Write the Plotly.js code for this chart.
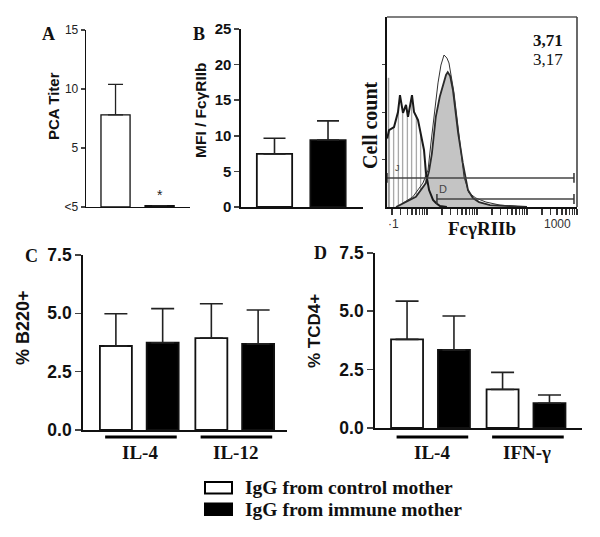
<!DOCTYPE html>
<html><head><meta charset="utf-8">
<script src="https://cdn.plot.ly/plotly-3.0.1.min.js"></script>
<style>html,body{margin:0;padding:0;background:#fff}#chart{width:600px;height:537px}</style>
</head><body><div id="chart"></div>
<script>
// ---------- DATA ----------
const seriesNames = ['IgG from control mother', 'IgG from immune mother'];
const seriesColors = ['#ffffff', '#000000'];

// Panel A: PCA titer
const pcaValues = [7.8, 0.12];
const pcaErrors = [2.6, null];
const pcaTickVals = [0, 5, 10, 15];
const pcaTickText = ['<5', '5', '10', '15'];
const pcaMarks = ['', '*'];

// Panel B: MFI / FcγRIIb
const mfiValues = [7.45, 9.4];
const mfiErrors = [2.2, 2.7];
const mfiTickVals = [0, 5, 10, 15, 20, 25];

// Panel C: % B220+
const cytokinesC = ['IL-4', 'IL-12'];
const b220Control = [3.6, 3.94];
const b220ControlErr = [1.38, 1.47];
const b220Immune = [3.74, 3.69];
const b220ImmuneErr = [1.46, 1.45];

// Panel D: % TCD4+
const cytokinesD = ['IL-4', 'IFN-γ'];
const tcd4Control = [3.79, 1.65];
const tcd4ControlErr = [1.64, 0.73];
const tcd4Immune = [3.34, 1.06];
const tcd4ImmuneErr = [1.45, 0.35];
const pctTickVals = [0, 2.5, 5, 7.5];
const pctTickText = ['0.0', '2.5', '5.0', '7.5'];

// Flow histogram (FcγRIIb fluorescence, cell count %)
const isoX = [1.6, 1.74, 2.19, 2.63, 2.88, 3.31, 3.80, 4.17, 5.01, 5.50, 6.61, 7.59, 8.71, 9.55, 11.0, 13.2, 15.1, 18.2, 25];
const isoY = [36, 40.5, 42.1, 50, 58.9, 49.5, 53.7, 47.4, 58.9, 50, 45.8, 36.8, 30, 17.9, 8.9, 3.7, 2.1, 0.5, 0];
const isoSpikeX = [1.7];
const isoSpikeY = [68];
const immuneX = [2.4, 6.0, 9.5, 11, 12.5, 15, 18, 21, 24, 26, 29, 33, 42, 52, 66, 83, 110, 182, 457, 1000];
const immuneY = [0, 5.4, 12.6, 19, 28, 47.4, 58, 65, 69.5, 71, 69, 61.6, 38.9, 23.2, 8.9, 4.7, 2.6, 1.0, 0.3, 0];
const controlX = [3.3, 5.2, 8.3, 10.5, 12, 13.8, 16.6, 19, 21.9, 25, 27.5, 34.7, 43.6, 55, 69, 95, 151, 288, 631];
const controlY = [2.1, 5.3, 12.6, 19.5, 33.7, 47.4, 65.3, 74.7, 80, 78.4, 75.8, 60, 36.8, 15.8, 7.4, 4.7, 2.6, 1.0, 0.3];
const gateNames = ['J', 'D'];
const gateStart = [1.585, 15.8];
const gateEnd = [8700, 8700];
const gateLevel = [15.3, 4.2];
const gateLabelX = [2.6, 21];
const gateLabelY = [20.5, 9.5];
const mfiTexts = ['3,71', '3,17'];
const flowTickText = ['·1', '1000'];

// ---------- HELPERS ----------
const W = 600, H = 537;
const px = v => v / W;
const py = v => 1 - v / H;
const SERIF = 'Liberation Serif, Times New Roman, serif';
const SANS = 'Liberation Sans, Arial, sans-serif';
const idx = arr => arr.map((_, i) => i);

const traces = [];
// Panel A
traces.push({
  type: 'bar', x: idx(pcaValues), y: pcaValues, width: 0.66, xaxis: 'x', yaxis: 'y',
  marker: {color: seriesColors, line: {color: '#111', width: 1.3}},
  error_y: {type: 'data', symmetric: false, array: pcaErrors, arrayminus: [0, 0], color: '#222', thickness: 1.3, width: 7.5},
  showlegend: false, hoverinfo: 'none'
});
// Panel B
traces.push({
  type: 'bar', x: idx(mfiValues), y: mfiValues, width: 0.66, xaxis: 'x2', yaxis: 'y2',
  marker: {color: seriesColors, line: {color: '#111', width: 1.8}},
  error_y: {type: 'data', symmetric: false, array: mfiErrors, arrayminus: [0, 0], color: '#222', thickness: 1.6, width: 11},
  showlegend: false, hoverinfo: 'none'
});
// Panels C & D
function groupTraces(vals, errs, color, offset, xa, ya) {
  return {
    type: 'bar', x: idx(vals), y: vals, width: 0.335, offset: offset, xaxis: xa, yaxis: ya,
    marker: {color: color, line: {color: '#111', width: 1.8}},
    error_y: {type: 'data', symmetric: false, array: errs, arrayminus: vals.map(() => 0), color: '#222', thickness: 1.6, width: 11.5},
    showlegend: false, hoverinfo: 'none'
  };
}
traces.push(groupTraces(b220Control, b220ControlErr, seriesColors[0], -0.415, 'x3', 'y3'));
traces.push(groupTraces(b220Immune, b220ImmuneErr, seriesColors[1], 0.075, 'x3', 'y3'));
traces.push(groupTraces(tcd4Control, tcd4ControlErr, seriesColors[0], -0.418, 'x4', 'y4'));
traces.push(groupTraces(tcd4Immune, tcd4ImmuneErr, seriesColors[1], 0.073, 'x4', 'y4'));

// Flow histogram
traces.push({
  type: 'scatter', mode: 'lines', x: isoX, y: isoY, xaxis: 'x5', yaxis: 'y5',
  fill: 'tozeroy', fillcolor: 'rgba(255,255,255,1)',
  fillpattern: {shape: '|', size: 4.5, solidity: 0.22, fgcolor: '#8a8a8a', bgcolor: '#ffffff'},
  line: {width: 0}, showlegend: false, hoverinfo: 'none'
});
traces.push({
  type: 'scatter', mode: 'lines', x: [isoSpikeX[0], isoSpikeX[0]], y: [0, isoSpikeY[0]], xaxis: 'x5', yaxis: 'y5',
  line: {color: '#9a9a9a', width: 1.5}, showlegend: false, hoverinfo: 'none'
});
traces.push({
  type: 'scatter', mode: 'lines', x: immuneX, y: immuneY, xaxis: 'x5', yaxis: 'y5',
  fill: 'tozeroy', fillcolor: '#c4c4c4', line: {color: '#2a2a2a', width: 1.8},
  showlegend: false, hoverinfo: 'none'
});
traces.push({
  type: 'scatter', mode: 'lines', x: controlX, y: controlY, xaxis: 'x5', yaxis: 'y5',
  line: {color: '#333', width: 1}, showlegend: false, hoverinfo: 'none'
});
traces.push({
  type: 'scatter', mode: 'lines', x: isoX, y: isoY, xaxis: 'x5', yaxis: 'y5',
  line: {color: '#1a1a1a', width: 2}, showlegend: false, hoverinfo: 'none'
});
gateNames.forEach((g, i) => {
  traces.push({
    type: 'scatter', mode: 'lines+markers', x: [gateStart[i], gateEnd[i]], y: [gateLevel[i], gateLevel[i]],
    xaxis: 'x5', yaxis: 'y5', cliponaxis: false,
    line: {color: '#444', width: 1.4}, marker: {symbol: 'line-ns', size: 7, line: {color: '#333', width: 1.5}},
    showlegend: false, hoverinfo: 'none'
  });
});

// ---------- LAYOUT ----------
const baseY = {showgrid: false, zeroline: false, showline: true, linecolor: '#111', ticks: 'outside', fixedrange: true};
const baseX = {showgrid: false, zeroline: false, showline: true, linecolor: '#111', ticks: '', showticklabels: false, fixedrange: true};

const layout = {
  width: W, height: H, margin: {l: 0, r: 0, t: 0, b: 0},
  paper_bgcolor: '#fff', plot_bgcolor: 'rgba(0,0,0,0)', barmode: 'group', showlegend: false,
  xaxis: Object.assign({}, baseX, {domain: [px(86), px(190)], range: [-0.67, 1.69], linewidth: 1.3}),
  yaxis: Object.assign({}, baseY, {domain: [py(207), py(30)], range: [0, 15], tickvals: pcaTickVals, ticktext: pcaTickText,
    ticklen: 4, tickwidth: 1.2, linewidth: 1.3, tickfont: {family: SANS, size: 12, color: '#222'}}),
  xaxis2: Object.assign({}, baseX, {domain: [px(241), px(363)], range: [-0.626, 1.654], linewidth: 1.6, anchor: 'y2'}),
  yaxis2: Object.assign({}, baseY, {domain: [py(207), py(29)], range: [0, 25], tickvals: mfiTickVals, anchor: 'x2',
    ticklen: 5, tickwidth: 1.5, linewidth: 1.6, tickfont: {family: SANS, size: 15, color: '#111', weight: 'bold'}}),
  xaxis3: Object.assign({}, baseX, {domain: [px(83), px(287)], range: [-0.592, 1.545], linewidth: 1.8, anchor: 'y3'}),
  yaxis3: Object.assign({}, baseY, {domain: [py(430), py(255)], range: [0, 7.5], tickvals: pctTickVals, ticktext: pctTickText, anchor: 'x3',
    ticklen: 6, tickwidth: 1.6, linewidth: 1.8, tickfont: {family: SANS, size: 17.5, color: '#111', weight: 'bold'}}),
  xaxis4: Object.assign({}, baseX, {domain: [px(375), px(582)], range: [-0.586, 1.581], linewidth: 1.8, anchor: 'y4'}),
  yaxis4: Object.assign({}, baseY, {domain: [py(428), py(252.7)], range: [0, 7.5], tickvals: pctTickVals, ticktext: pctTickText, anchor: 'x4',
    ticklen: 6, tickwidth: 1.6, linewidth: 1.8, tickfont: {family: SANS, size: 17.5, color: '#111', weight: 'bold'}}),
  xaxis5: {domain: [px(387), px(577)], type: 'log', range: [0.2, 4.0], anchor: 'y5', showgrid: false, zeroline: false,
    showline: true, linecolor: '#111', linewidth: 2, ticks: 'outside', ticklen: 6, tickwidth: 1.2, tickcolor: '#333',
    tickvals: [1, 2, 3, 4, 5, 6, 7, 8, 9].flatMap(k => [1, 10, 100, 1000].map(d => k * d)).concat([10000]),
    showticklabels: false, fixedrange: true},
  yaxis5: {domain: [py(207), py(17)], range: [0, 100], anchor: 'x5', showgrid: false, zeroline: false,
    showline: true, linecolor: '#111', linewidth: 2, ticks: 'outside', ticklen: 3, tickwidth: 1, tickcolor: '#444',
    tickvals: [25, 50, 75], showticklabels: false, fixedrange: true},
  shapes: [],
  annotations: []
};

// flow box top/right borders
layout.shapes.push({type: 'line', xref: 'paper', yref: 'paper', x0: px(387), x1: px(577), y0: py(17), y1: py(17), line: {color: '#555', width: 1.6}});
layout.shapes.push({type: 'line', xref: 'paper', yref: 'paper', x0: px(577), x1: px(577), y0: py(207), y1: py(17), line: {color: '#444', width: 1.6}});

// group underline bars + labels
[[cytokinesC, 'x3'], [cytokinesD, 'x4']].forEach(([cats, xa]) => {
  cats.forEach((c, i) => {
    layout.shapes.push({type: 'line', xref: xa, yref: 'paper', x0: i - 0.36, x1: i + 0.39, y0: py(437), y1: py(437),
      line: {color: '#000', width: 3}});
    layout.annotations.push({xref: xa, yref: 'paper', x: i + 0.01, y: py(452), text: c, showarrow: false,
      font: {family: SERIF, size: 19, color: '#111', weight: 'bold'}, xanchor: 'center', yanchor: 'middle'});
  });
});

// asterisk in panel A
pcaMarks.forEach((m, i) => {
  if (m) layout.annotations.push({xref: 'x', yref: 'y', x: i, y: pcaValues[i] + 0.05, text: m, showarrow: false,
    yanchor: 'bottom', font: {family: SANS, size: 14, color: '#222'}});
});

// legend
seriesNames.forEach((n, i) => {
  const top = 482 + i * 21.5, bot = top + 11.5;
  layout.shapes.push({type: 'rect', xref: 'paper', yref: 'paper', x0: px(205), x1: px(232), y0: py(bot), y1: py(top),
    fillcolor: seriesColors[i], line: {color: '#000', width: 2}});
  layout.annotations.push({xref: 'paper', yref: 'paper', x: px(243), y: py((top + bot) / 2), text: n, showarrow: false,
    xanchor: 'left', yanchor: 'middle', font: {family: SERIF, size: 19.5, color: '#111', weight: 'bold'}});
});

// panel letters
[['A', 48, 34], ['B', 199, 34], ['C', 31, 256], ['D', 320, 253]].forEach(([t, x, y]) => {
  layout.annotations.push({xref: 'paper', yref: 'paper', x: px(x), y: py(y), text: t, showarrow: false,
    xanchor: 'center', yanchor: 'middle', font: {family: SERIF, size: 18, color: '#111', weight: 'bold'}});
});

// axis titles
[['PCA Titer', 53, 106, SANS, 15], ['MFI / FcγRIIb', 200, 110, SANS, 15.5], ['% B220+', 23, 328, SANS, 18],
 ['% TCD4+', 314, 331, SANS, 17], ['Cell count', 370, 125, SERIF, 20]].forEach(([t, x, y, f, s]) => {
  layout.annotations.push({xref: 'paper', yref: 'paper', x: px(x), y: py(y), text: t, showarrow: false, textangle: -90,
    xanchor: 'center', yanchor: 'middle', font: {family: f, size: s, color: '#111', weight: 'bold'}});
});
layout.annotations.push({xref: 'paper', yref: 'paper', x: px(482), y: py(229), text: 'FcγRIIb', showarrow: false,
  xanchor: 'center', yanchor: 'middle', font: {family: SERIF, size: 19, color: '#111', weight: 'bold'}});

// flow tick labels (as printed)
[[flowTickText[0], 393], [flowTickText[1], 557]].forEach(([t, x]) => {
  layout.annotations.push({xref: 'paper', yref: 'paper', x: px(x), y: py(224), text: t, showarrow: false,
    xanchor: 'center', yanchor: 'middle', font: {family: SANS, size: 12, color: '#333'}});
});
// MFI values in histogram
mfiTexts.forEach((t, i) => {
  layout.annotations.push({xref: 'paper', yref: 'paper', x: px(548), y: py(40 + i * 19.5), text: t, showarrow: false,
    xanchor: 'center', yanchor: 'middle', font: {family: SERIF, size: 17, color: '#111', weight: i === 0 ? 'bold' : 'normal'}});
});
// gate labels
gateNames.forEach((g, i) => {
  layout.annotations.push({xref: 'x5', yref: 'y5', x: Math.log10(gateLabelX[i]), y: gateLabelY[i], text: g, showarrow: false,
    font: {family: SANS, size: i === 0 ? 9 : 11, color: '#444'}});
});

Plotly.newPlot('chart', traces, layout, {staticPlot: true, displayModeBar: false});
</script>
</body></html>
